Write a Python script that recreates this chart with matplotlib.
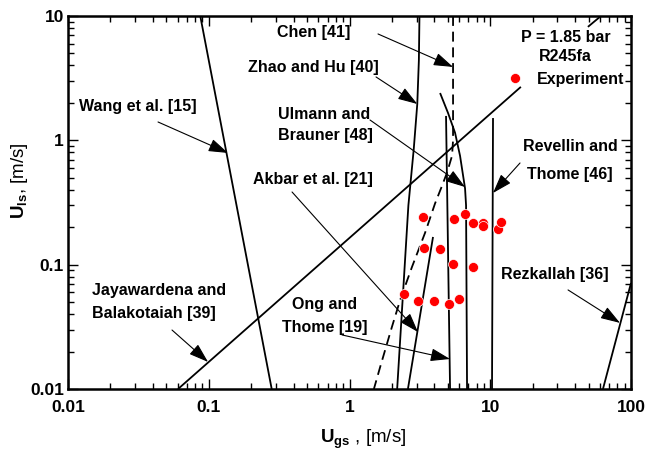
import matplotlib
matplotlib.use('Agg')
import matplotlib.pyplot as plt
from matplotlib.ticker import LogLocator, NullFormatter, FixedLocator, FixedFormatter

plt.rcParams['font.family'] = ['Liberation Sans', 'DejaVu Sans']
plt.rcParams['mathtext.fontset'] = 'custom'
plt.rcParams['mathtext.rm'] = 'Liberation Sans'
plt.rcParams['mathtext.bf'] = 'Liberation Sans:bold'
plt.rcParams['mathtext.it'] = 'Liberation Sans:italic'

# ---------------- data ----------------
# experimental points (R245fa, P = 1.85 bar)
exp_ugs = [2.44, 3.07, 3.98, 5.09, 6.00,
           3.38, 4.39, 5.44, 7.54,
           3.33, 5.51, 6.62, 7.54, 8.88, 8.88, 11.35, 11.92]
exp_uls = [0.058, 0.051, 0.051, 0.048, 0.053,
           0.136, 0.134, 0.101, 0.096,
           0.243, 0.233, 0.256, 0.218, 0.216, 0.205, 0.194, 0.220]

# transition boundaries
wang_x = [0.087, 0.28]
wang_y = [10.0, 0.01]

jay_x1 = [0.0605, 16.5]
jay_y1 = [0.01, 2.69]
jay_x2 = [49.4, 61.2]
jay_y2 = [8.17, 10.0]

zhao_x = [3.14, 3.11, 3.03, 2.86, 2.62, 2.40, 2.18]
zhao_y = [10.0, 4.4, 1.96, 0.85, 0.30, 0.059, 0.01]

chen_x = [5.44, 5.44, 5.35, 4.93, 4.54, 4.05, 3.44, 2.78, 2.29, 2.00, 1.65, 1.49]
chen_y = [10.0, 1.0, 0.75, 0.55, 0.43, 0.31, 0.18, 0.096, 0.052, 0.0315, 0.015, 0.01]

ulmann_x = [4.40, 5.01, 5.62, 6.10, 6.62, 6.73, 6.84]
ulmann_y = [2.40, 1.66, 1.15, 0.75, 0.41, 0.30, 0.01]

ong_x = [4.85, 5.18]
ong_y = [1.57, 0.01]

revellin_x = [10.46, 10.29]
revellin_y = [1.51, 0.01]

akbar_x = [3.92, 2.60]
akbar_y = [0.167, 0.01]

rezkallah_x = [63.2, 100.0]
rezkallah_y = [0.01, 0.0712]

x_ticks = [0.01, 0.1, 1, 10, 100]
x_ticklabels = ['0.01', '0.1', '1', '10', '100']
y_ticks = [0.01, 0.1, 1, 10]
y_ticklabels = ['0.01', '0.1', '1', '10']

# labels: (text, x, y, ha)
labels = [
    ('Wang et al. [15]', 0.0312, 1.854, 'center'),
    ('Jayawardena and', 0.01481, 0.0614, 'left'),
    ('Balakotaiah [39]', 0.01481, 0.0401, 'left'),
    ('Chen [41]', 0.5548, 7.30, 'center'),
    ('Zhao and Hu [40]', 0.5504, 3.817, 'center'),
    ('Ulmann and', 0.3105, 1.599, 'left'),
    ('Brauner [48]', 0.3105, 1.084, 'left'),
    ('Akbar et al. [21]', 0.5504, 0.4797, 'center'),
    ('Ong and', 0.6644, 0.0474, 'center'),
    ('Thome [19]', 0.6644, 0.0315, 'center'),
    ('Revellin and', 36.87, 0.884, 'center'),
    ('Thome [46]', 36.87, 0.526, 'center'),
    ('Rezkallah [36]', 28.84, 0.0826, 'center'),
]

# arrows: (tail x, tail y, tip x, tip y)
arrows = [
    (0.0436, 1.404, 0.137, 0.791),     # Wang
    (0.0548, 0.0298, 0.0988, 0.0165),  # Jayawardena
    (1.594, 7.165, 5.44, 3.89),        # Chen
    (1.543, 3.232, 3.03, 1.96),        # Zhao
    (1.398, 1.457, 6.616, 0.4214),     # Ulmann
    (0.3905, 0.384, 3.067, 0.0287),    # Akbar
    (0.885, 0.0272, 5.176, 0.01743),   # Ong
    (16.27, 0.657, 10.46, 0.377),      # Revellin
    (35.7, 0.0626, 83.5, 0.034),       # Rezkallah
]

# ---------------- figure ----------------
fig = plt.figure(figsize=(6.46, 4.51), dpi=100)
ax = fig.add_axes([0.1053, 0.1375, 0.8715, 0.8271])
ax.set_xscale('log')
ax.set_yscale('log')
ax.set_xlim(0.01, 100)
ax.set_ylim(0.01, 10)

lw = 1.3
for xs, ys in [(wang_x, wang_y), (jay_x1, jay_y1), (jay_x2, jay_y2),
               (zhao_x, zhao_y), (ulmann_x, ulmann_y), (ong_x, ong_y),
               (revellin_x, revellin_y), (akbar_x, akbar_y),
               (rezkallah_x, rezkallah_y)]:
    ax.plot(xs, ys, color='black', lw=lw, solid_capstyle='butt')
ax.plot(chen_x, chen_y, color='black', lw=lw, linestyle=(0, (5.5, 3.2)))

pts, = ax.plot(exp_ugs, exp_uls, 'o', color='#ff0000', ms=7.2, mec='white',
               mew=0.5, ls='none', zorder=5)

for txt, tx, ty, ha in labels:
    ax.text(tx, ty, txt, ha=ha, va='center', fontsize=11.5, fontweight='bold')

aprops = dict(arrowstyle='-|>,head_length=0.6,head_width=0.2',
              mutation_scale=20, color='black', lw=0.8,
              shrinkA=0, shrinkB=0)
for x0, y0, x1, y1 in arrows:
    ax.annotate('', xy=(x1, y1), xytext=(x0, y0), arrowprops=aprops)

leg = ax.legend(handles=[pts], labels=['Experiment'],
                title='P = 1.85 bar\nR245fa', frameon=False,
                loc='center', bbox_to_anchor=(0.884, 0.886),
                prop=dict(weight='bold', size=11.5),
                title_fontproperties=dict(weight='bold', size=11.5),
                handlelength=1.0, handletextpad=0.85,
                borderaxespad=0, borderpad=0)
leg.get_title().set_multialignment('center')
leg.get_title().set_linespacing(1.35)

# ticks
ax.xaxis.set_major_locator(FixedLocator(x_ticks))
ax.xaxis.set_major_formatter(FixedFormatter(x_ticklabels))
ax.yaxis.set_major_locator(FixedLocator(y_ticks))
ax.yaxis.set_major_formatter(FixedFormatter(y_ticklabels))
ax.xaxis.set_minor_locator(LogLocator(base=10, subs=range(2, 10)))
ax.yaxis.set_minor_locator(LogLocator(base=10, subs=range(2, 10)))
ax.xaxis.set_minor_formatter(NullFormatter())
ax.yaxis.set_minor_formatter(NullFormatter())
ax.tick_params(which='both', direction='in', top=True, right=True,
               width=1.0, colors='black')
ax.tick_params(which='major', length=7)
ax.tick_params(which='minor', length=4)
ax.tick_params(axis='x', which='major', pad=8)
ax.tick_params(axis='y', which='major', pad=3)
for lab in ax.get_xticklabels() + ax.get_yticklabels():
    lab.set_fontsize(12.5)
    lab.set_fontweight('bold')
for sp in ax.spines.values():
    sp.set_linewidth(1.8)

ax.set_xlabel(r'$\mathbf{U_{gs}}$ , [m/s]', fontsize=13.5)
ax.set_ylabel(r'$\mathbf{U_{ls}}$, [m/s]', fontsize=13.5)
ax.xaxis.set_label_coords(0.524, -0.105)
ax.yaxis.set_label_coords(-0.068, 0.56)

fig.savefig('out.png', dpi=100)
